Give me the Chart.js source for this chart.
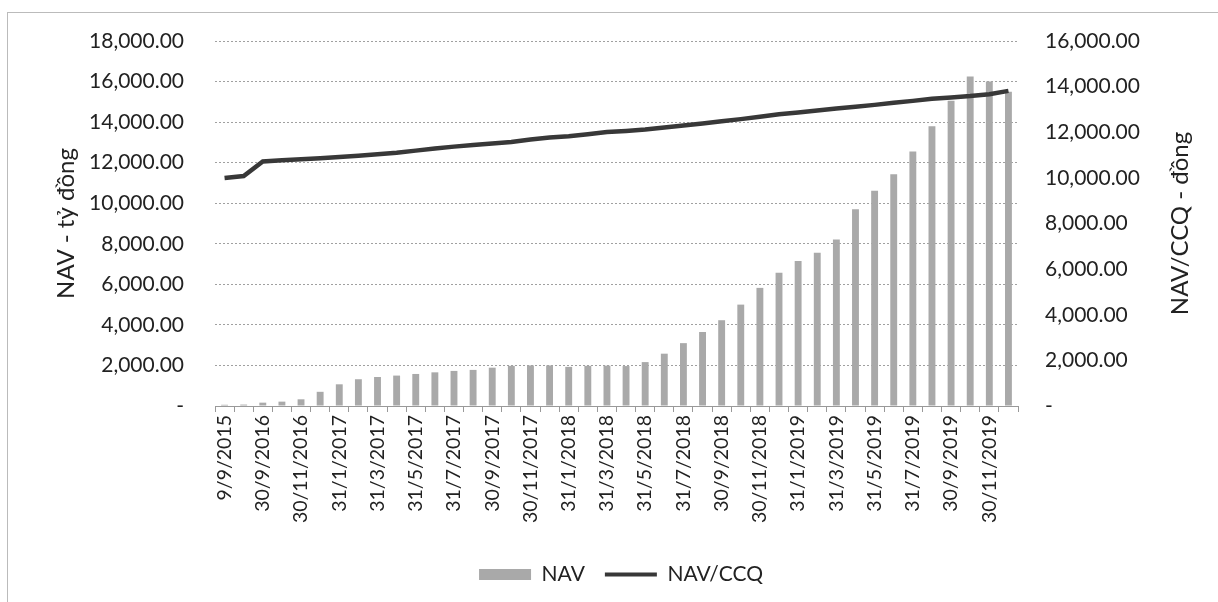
<!DOCTYPE html>
<html>
<head>
<meta charset="utf-8">
<script src="https://cdn.jsdelivr.net/npm/chart.js@4"></script>
<style>
  html, body { margin: 0; padding: 0; background: #fff; }
  #wrap { position: relative; width: 1218px; height: 602px; overflow: hidden; }
  #frame { position: absolute; left: 7px; top: 12px; width: 1300px; height: 700px;
           border-left: 1px solid #bbb; border-top: 1px solid #bbb; }
  canvas { position: absolute; left: 0; top: 0; }
</style>
</head>
<body>
<div id="wrap">
  <div id="frame"></div>
  <canvas id="chart" width="1218" height="602"></canvas>
</div>
<script>
// categories (month-end reporting dates)
const dates = [
  '9/9/2015', '31/8/2016', '30/9/2016', '31/10/2016', '30/11/2016', '31/12/2016',
  '31/1/2017', '28/2/2017', '31/3/2017', '30/4/2017', '31/5/2017', '30/6/2017',
  '31/7/2017', '31/8/2017', '30/9/2017', '31/10/2017', '30/11/2017', '31/12/2017',
  '31/1/2018', '28/2/2018', '31/3/2018', '30/4/2018', '31/5/2018', '30/6/2018',
  '31/7/2018', '31/8/2018', '30/9/2018', '31/10/2018', '30/11/2018', '31/12/2018',
  '31/1/2019', '28/2/2019', '31/3/2019', '30/4/2019', '31/5/2019', '30/6/2019',
  '31/7/2019', '31/8/2019', '30/9/2019', '31/10/2019', '30/11/2019', '31/12/2019'
];

// NAV - tỷ đồng (left axis)
const nav = [
  60, 70, 165, 215, 330, 700,
  1070, 1320, 1430, 1500, 1580, 1660,
  1730, 1780, 1890, 1980, 2000, 2000,
  1930, 1980, 1990, 1970, 2165, 2580,
  3100, 3650, 4230, 5000, 5825, 6570,
  7145, 7560, 8215, 9700, 10620, 11430,
  12550, 13800, 15050, 16250, 16000, 15500
];

// NAV/CCQ - đồng (right axis)
const navPerUnit = [
  9990, 10080, 10720, 10770, 10815, 10860,
  10915, 10975, 11035, 11105, 11195, 11285,
  11370, 11445, 11505, 11575, 11680, 11765,
  11825, 11910, 12010, 12060, 12120, 12210,
  12295, 12385, 12485, 12575, 12675, 12790,
  12865, 12955, 13045, 13115, 13200, 13290,
  13375, 13465, 13525, 13585, 13670, 13815
];

const FONT = 'Lato, "Open Sans", sans-serif';
const TEXT = '#222';

function fmt(v) {
  if (v === 0) return '-';
  return v.toLocaleString('en-US', { minimumFractionDigits: 2, maximumFractionDigits: 2 });
}

// right axis title reads bottom-to-top like the left one
const rightTitle = {
  id: 'rightTitle',
  afterDraw(chart) {
    const { ctx, chartArea } = chart;
    ctx.save();
    ctx.translate(1180, (chartArea.top + chartArea.bottom) / 2);
    ctx.rotate(-Math.PI / 2);
    ctx.font = '24px ' + FONT;
    ctx.fillStyle = TEXT;
    ctx.textAlign = 'center';
    ctx.textBaseline = 'middle';
    ctx.fillText('NAV/CCQ - đồng', 0, 0);
    ctx.restore();
  }
};

new Chart(document.getElementById('chart'), {
  type: 'bar',
  data: {
    labels: dates,
    datasets: [
      {
        label: 'NAV',
        data: nav,
        yAxisID: 'y',
        backgroundColor: '#a9a9a9',
        barPercentage: 0.36,
        categoryPercentage: 1.0,
        order: 1
      },
      {
        type: 'line',
        label: 'NAV/CCQ',
        data: navPerUnit,
        yAxisID: 'y1',
        borderColor: '#383838',
        backgroundColor: '#383838',
        borderWidth: 4.5,
        pointRadius: 0,
        tension: 0,
        order: 0
      }
    ]
  },
  options: {
    responsive: false,
    animation: false,
    layout: { padding: { left: 36, right: 12, top: 41, bottom: 7 } },
    scales: {
      x: {
        grid: { drawOnChartArea: false, drawTicks: true, tickLength: 6, color: '#999', offset: true },
        border: { color: '#999' },
        ticks: {
          autoSkip: false,
          maxRotation: 90,
          minRotation: 90,
          padding: 3,
          color: TEXT,
          font: { family: FONT, size: 19.5 },
          callback(value, index) { return index % 2 === 0 ? dates[index] : ''; }
        },
        afterFit(scale) { scale.height = 138; }
      },
      y: {
        position: 'left',
        min: 0,
        max: 18000,
        // invisible tick marks push the labels away from the plot
        grid: { color: '#a0a0a0', drawTicks: true, tickLength: 28, tickColor: 'rgba(0,0,0,0)' },
        border: { display: false, dash: [2, 2] },
        ticks: {
          stepSize: 2000,
          padding: 3,
          color: TEXT,
          font: { family: FONT, size: 21 },
          callback: fmt
        },
        title: {
          display: true,
          text: 'NAV - tỷ đồng',
          color: TEXT,
          font: { family: FONT, size: 24 },
          padding: { top: 16, bottom: 0 }
        },
        afterFit(scale) { scale.width = 179; }
      },
      y1: {
        position: 'right',
        min: 0,
        max: 16000,
        grid: { drawOnChartArea: false, drawTicks: true, tickLength: 24, tickColor: 'rgba(0,0,0,0)' },
        border: { display: false },
        ticks: {
          stepSize: 2000,
          padding: 3,
          color: TEXT,
          font: { family: FONT, size: 21 },
          callback: fmt
        },
        afterFit(scale) { scale.width = 188; }
      }
    },
    plugins: {
      legend: {
        position: 'bottom',
        labels: {
          usePointStyle: true,
          pointStyleWidth: 52,
          boxHeight: 11,
          padding: 20,
          color: TEXT,
          font: { family: FONT, size: 21 },
          sort: (a, b) => a.datasetIndex - b.datasetIndex,
          generateLabels(chart) {
            return chart.data.datasets.map((ds, i) => ({
              text: ds.label,
              fillStyle: ds.backgroundColor,
              strokeStyle: ds.type === 'line' ? ds.borderColor : ds.backgroundColor,
              lineWidth: ds.type === 'line' ? 4 : 0,
              pointStyle: ds.type === 'line' ? 'line' : 'rect',
              fontColor: TEXT,
              hidden: false,
              datasetIndex: i
            }));
          }
        }
      },
      tooltip: { enabled: false }
    }
  },
  plugins: [rightTitle]
});
</script>
</body>
</html>
